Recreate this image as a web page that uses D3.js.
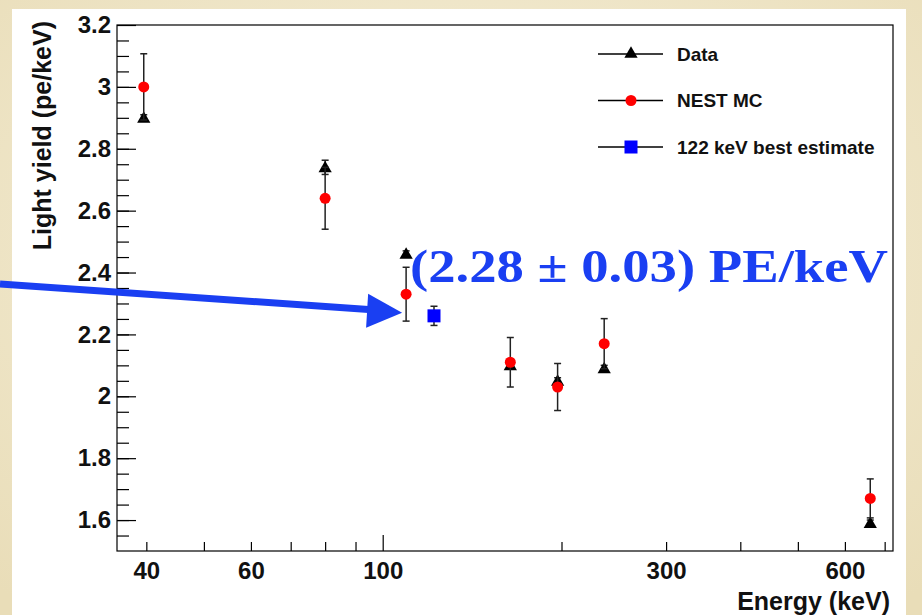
<!DOCTYPE html>
<html lang="en">
<head>
    <meta charset="UTF-8">
    <title>Light yield vs energy</title>
    <script src="https://d3js.org/d3.v7.min.js"></script>
    <style>
        body { margin: 0; background: #efe5c6; }
        svg { display: block; }
    </style>
</head>
<body>

<div id="chart"></div>

<script>
    // values
    var energies = [39.6, 80, 109.5, 164, 197, 236, 662];
    var dataLY   = [2.90, 2.74, 2.46, 2.10, 2.05, 2.09, 1.59];
    var dataErr  = [0.01, 0.023, 0.01, 0.01, 0.01, 0.01, 0.01];
    var mcLY     = [3.00, 2.64, 2.33, 2.11, 2.03, 2.17, 1.67];
    var mcErr    = [0.107, 0.10, 0.087, 0.08, 0.076, 0.081, 0.063];
    var bestE    = [122];
    var bestLY   = [2.26];
    var bestErr  = [0.031];

    var xMinorTicks = [40, 50, 60, 70, 80, 90, 200, 300, 400, 500, 600, 700];
    var xMajorTicks = [100];
    var xLabels     = [40, 60, 100, 300, 600];
    var yLabels     = [1.6, 1.8, 2, 2.2, 2.4, 2.6, 2.8, 3, 3.2];
    var yMinorTicks = d3.range(1.55, 3.2, 0.05).map(function(v) { return +v.toFixed(2); });
    var legendLabels = ["Data", "NEST MC", "122 keV best estimate"];

    var W = 922, H = 615;
    var margin = {top: 25, right: 29, bottom: 64, left: 117},
        width = W - margin.left - margin.right,
        height = H - margin.top - margin.bottom;

    var root = d3.select("#chart").append("svg")
        .attr("width", W)
        .attr("height", H);

    // beige slide background + white canvas
    var defs = root.append("defs");
    var grad = defs.append("radialGradient").attr("id", "paper")
        .attr("cx", "50%").attr("cy", "40%").attr("r", "75%");
    grad.append("stop").attr("offset", "0%").attr("stop-color", "#f6f0dc");
    grad.append("stop").attr("offset", "100%").attr("stop-color", "#e9ddb8");
    root.append("rect").attr("width", W).attr("height", H).attr("fill", "url(#paper)");
    root.append("rect").attr("x", 12).attr("y", 9).attr("width", 894).attr("height", H - 9)
        .attr("fill", "#ffffff");

    var svg = root.append("g")
        .attr("transform", "translate(" + margin.left + "," + margin.top + ")");

    var x = d3.scaleLog().domain([35.7, 723]).range([0, width]);
    var y = d3.scaleLinear().domain([1.5, 3.2]).range([height, 0]);

    function styleAxis(g) {
        g.select(".domain").remove();
        g.selectAll(".tick line").attr("stroke", "#000").attr("stroke-width", 1.2);
        g.selectAll("text")
            .attr("fill", "#111")
            .style("font-family", "'Liberation Sans', Arial, sans-serif")
            .style("font-weight", "bold")
            .style("font-size", "24px");
    }

    // X axis: minor ticks, long decade tick, labels
    svg.append("g")
        .attr("transform", "translate(0," + height + ")")
        .call(d3.axisBottom(x).tickValues(xMinorTicks).tickSize(-9).tickFormat(""))
        .call(styleAxis);
    svg.append("g")
        .attr("transform", "translate(0," + height + ")")
        .call(d3.axisBottom(x).tickValues(xMajorTicks).tickSize(-16).tickFormat(""))
        .call(styleAxis);
    svg.append("g")
        .attr("transform", "translate(0," + height + ")")
        .call(d3.axisBottom(x).tickValues(xLabels).tickSize(0).tickPadding(11)
            .tickFormat(d3.format("d")))
        .call(styleAxis);

    // Y axis
    svg.append("g")
        .call(d3.axisLeft(y).tickValues(yMinorTicks).tickSize(-12).tickFormat(""))
        .call(styleAxis);
    svg.append("g")
        .call(d3.axisLeft(y).tickValues(yLabels).tickSize(-19).tickPadding(6)
            .tickFormat(function(d) { return d3.format("~g")(d); }))
        .call(styleAxis);

    // frame
    svg.append("rect")
        .attr("width", width).attr("height", height)
        .attr("fill", "none").attr("stroke", "#000").attr("stroke-width", 1.2);

    // axis titles
    svg.append("text")
        .attr("x", width - 3).attr("y", height + 59)
        .attr("text-anchor", "end")
        .style("font-family", "'Liberation Sans', Arial, sans-serif")
        .style("font-weight", "bold").style("font-size", "25px")
        .attr("fill", "#111")
        .text("Energy (keV)");
    svg.append("text")
        .attr("transform", "translate(-66,-4) rotate(-90)")
        .attr("text-anchor", "end")
        .style("font-family", "'Liberation Sans', Arial, sans-serif")
        .style("font-weight", "bold").style("font-size", "25px")
        .attr("fill", "#111")
        .text("Light yield (pe/keV)");

    function errorBars(xs, ys, es) {
        var g = svg.append("g");
        var rows = xs.map(function(e, i) { return {e: e, v: ys[i], err: es[i]}; });
        g.selectAll("line.bar").data(rows).enter().append("line")
            .attr("x1", function(d) { return x(d.e); })
            .attr("x2", function(d) { return x(d.e); })
            .attr("y1", function(d) { return y(d.v - d.err); })
            .attr("y2", function(d) { return y(d.v + d.err); })
            .attr("stroke", "#222").attr("stroke-width", 1.5);
        [-1, 1].forEach(function(s) {
            g.selectAll(null).data(rows).enter().append("line")
                .attr("x1", function(d) { return x(d.e) - 3.5; })
                .attr("x2", function(d) { return x(d.e) + 3.5; })
                .attr("y1", function(d) { return y(d.v + s * d.err); })
                .attr("y2", function(d) { return y(d.v + s * d.err); })
                .attr("stroke", "#222").attr("stroke-width", 1.5);
        });
        return rows;
    }

    var triangle = d3.symbol().type(d3.symbolTriangle).size(76);

    // Data
    var dRows = errorBars(energies, dataLY, dataErr);
    svg.append("g").selectAll("path").data(dRows).enter().append("path")
        .attr("d", triangle)
        .attr("transform", function(d) { return "translate(" + x(d.e) + "," + (y(d.v) + 1) + ")"; })
        .attr("fill", "#000");

    // NEST MC
    var mRows = errorBars(energies, mcLY, mcErr);
    svg.append("g").selectAll("circle").data(mRows).enter().append("circle")
        .attr("cx", function(d) { return x(d.e); })
        .attr("cy", function(d) { return y(d.v); })
        .attr("r", 5.5)
        .attr("fill", "#ff0000");

    // 122 keV best estimate
    var bRows = errorBars(bestE, bestLY, bestErr);
    svg.append("g").selectAll("rect").data(bRows).enter().append("rect")
        .attr("x", function(d) { return x(d.e) - 6.5; })
        .attr("y", function(d) { return y(d.v) - 6.5; })
        .attr("width", 13).attr("height", 13)
        .attr("fill", "#0000ff");

    // legend
    var legend = root.append("g").attr("transform", "translate(598,54)");
    var item = legend.selectAll("g").data(legendLabels).enter().append("g")
        .attr("transform", function(d, i) { return "translate(0," + (i * 46.5) + ")"; });
    item.append("line").attr("x1", 0).attr("x2", 65)
        .attr("stroke", "#000").attr("stroke-width", 1.3);
    item.append("text")
        .attr("x", 79).attr("dy", "0.36em")
        .style("font-family", "'Liberation Sans', Arial, sans-serif")
        .style("font-weight", "bold").style("font-size", "19px")
        .attr("fill", "#111")
        .text(function(d) { return d; });
    item.filter(function(d, i) { return i === 0; }).append("path")
        .attr("d", triangle).attr("transform", "translate(33,0)").attr("fill", "#000");
    item.filter(function(d, i) { return i === 1; }).append("circle")
        .attr("cx", 33).attr("r", 5.5).attr("fill", "#ff0000");
    item.filter(function(d, i) { return i === 2; }).append("rect")
        .attr("x", 26.5).attr("y", -6.5).attr("width", 13).attr("height", 13).attr("fill", "#0000ff");

    // annotation: arrow and value
    var tipX = margin.left + x(energies[2]) - 4,
        tipY = margin.top + y(2.27);
    var blue = "#1a3ff2";
    root.append("line")
        .attr("x1", 0).attr("y1", 284)
        .attr("x2", tipX - 30).attr("y2", tipY - 3)
        .attr("stroke", blue).attr("stroke-width", 7);
    root.append("path")
        .attr("d", "M" + tipX + "," + tipY +
            "L" + (tipX - 34) + "," + (tipY - 19) +
            "L" + (tipX - 36) + "," + (tipY + 15) + "Z")
        .attr("fill", blue);
    root.append("text")
        .attr("x", 410).attr("y", 282)
        .attr("textLength", 478).attr("lengthAdjust", "spacingAndGlyphs")
        .style("font-family", "'Liberation Serif', 'DejaVu Serif', serif")
        .style("font-weight", "bold").style("font-size", "46px")
        .attr("fill", blue)
        .text("(2.28 \u00b1 0.03) PE/keV");
</script>

</body>
</html>
